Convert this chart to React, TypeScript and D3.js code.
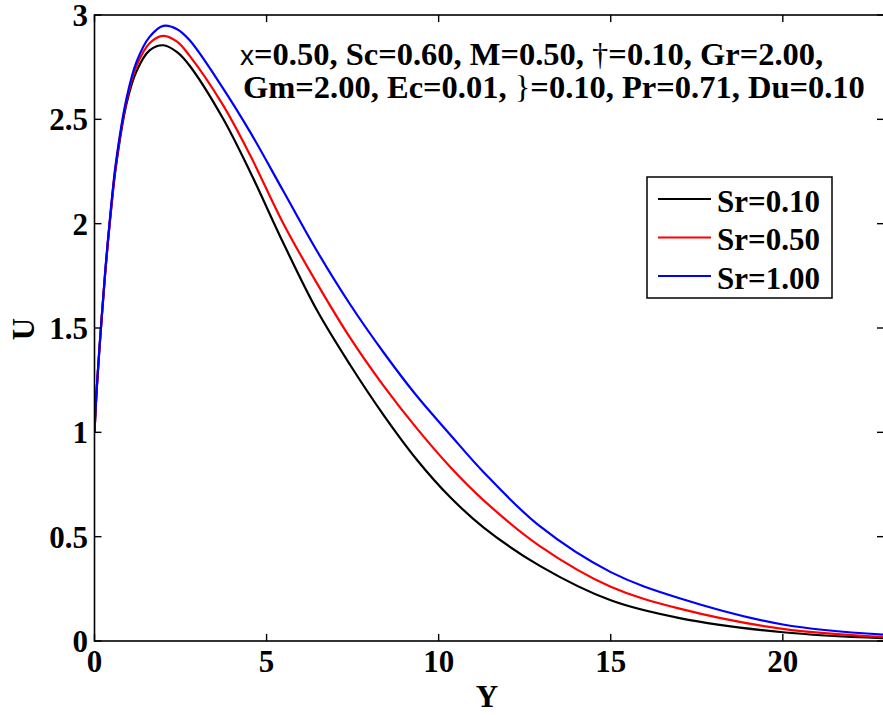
import React from "react";
import * as d3 from "d3";

const yGrid = [0, 0.07, 0.21, 0.33, 0.46, 0.62, 0.93, 1.22, 1.6, 2.0, 2.4, 2.76, 3.73, 4.52, 5.49, 6.46, 7.42, 8.39, 9.36, 10.33, 11.3, 12.94, 15, 17, 20, 22.94];
const uSr010 = [1.0, 1.22, 1.55, 1.8, 2.03, 2.27, 2.575, 2.73, 2.83, 2.855, 2.822, 2.758, 2.505, 2.249, 1.906, 1.586, 1.325, 1.085, 0.87, 0.69, 0.545, 0.36, 0.195, 0.11, 0.042, 0.013];
const uSr050 = [1.0, 1.22, 1.55, 1.8, 2.035, 2.28, 2.588, 2.755, 2.865, 2.9, 2.872, 2.805, 2.569, 2.329, 2.0, 1.715, 1.455, 1.225, 1.02, 0.835, 0.675, 0.455, 0.26, 0.155, 0.058, 0.019];
const uSr100 = [1.0, 1.225, 1.555, 1.81, 2.045, 2.29, 2.6, 2.775, 2.895, 2.948, 2.932, 2.88, 2.65, 2.44, 2.155, 1.87, 1.615, 1.385, 1.175, 0.99, 0.81, 0.55, 0.33, 0.205, 0.079, 0.03];
const seriesNames = ["Sr=0.10", "Sr=0.50", "Sr=1.00"];
const seriesColors = ["#000000", "#ff0000", "#0000ff"];
const xTicks = [0, 5, 10, 15, 20];
const yTicks = [0, 0.5, 1, 1.5, 2, 2.5, 3];

const FONT = "Liberation Serif, DejaVu Serif, Times New Roman, serif";

export default function App() {
  const W = 883, H = 715;
  const L = 94.5, R = 884, T = 15, B = 641;
  const x = d3.scaleLinear().domain([0, 22.94]).range([L, R]);
  const y = d3.scaleLinear().domain([0, 3]).range([B, T]);
  const line = d3.line<[number, number]>().x(d => x(d[0])).y(d => y(d[1])).curve(d3.curveCatmullRom.alpha(0.5));
  const all = [uSr010, uSr050, uSr100];
  const tl = 7;
  const fs = 31;
  const afs = 32.5;
  return (
    <svg width={W} height={H} style={{ position: "absolute", left: 0, top: 0, background: "#fff" }}>
      <defs>
        <clipPath id="plot"><rect x={L} y={T} width={R - L} height={B - T} /></clipPath>
      </defs>
      <rect x={0} y={0} width={W} height={H} fill="#fff" />
      <g clipPath="url(#plot)">
        {all.map((s, i) => (
          <path key={i} d={line(yGrid.map((g, j) => [g, s[j]] as [number, number])) || ""} fill="none" stroke={seriesColors[i]} strokeWidth={2.2} />
        ))}
      </g>
      <rect x={L} y={T} width={R - L} height={B - T} fill="none" stroke="#000" strokeWidth={1.6} />
      {xTicks.map(t => (
        <g key={"x" + t}>
          <line x1={x(t)} x2={x(t)} y1={B} y2={B - tl} stroke="#000" strokeWidth={1.4} />
          <line x1={x(t)} x2={x(t)} y1={T} y2={T + tl} stroke="#000" strokeWidth={1.4} />
          <text x={x(t)} y={672} textAnchor="middle" fontFamily={FONT} fontWeight="bold" fontSize={fs}>{t}</text>
        </g>
      ))}
      {yTicks.map(t => (
        <g key={"y" + t}>
          <line x1={L} x2={L + tl} y1={y(t)} y2={y(t)} stroke="#000" strokeWidth={1.4} />
          <line x1={R} x2={R - tl} y1={y(t)} y2={y(t)} stroke="#000" strokeWidth={1.4} />
          <text x={88} y={y(t) + 11} textAnchor="end" fontFamily={FONT} fontWeight="bold" fontSize={fs}>{t}</text>
        </g>
      ))}
      <text x={487} y={707} textAnchor="middle" fontFamily={FONT} fontWeight="bold" fontSize={fs}>Y</text>
      <text transform="translate(34,329) rotate(-90)" textAnchor="middle" fontFamily={FONT} fontWeight="bold" fontSize={fs}>U</text>
      <text x={240} y={65} fontFamily={FONT} fontWeight="bold" fontSize={afs}>
        <tspan fontFamily="Liberation Sans, DejaVu Sans, sans-serif" fontWeight="normal" fontSize={28}>x</tspan>
        <tspan>=0.50, Sc=0.60, M=0.50, </tspan>
        <tspan fontWeight="normal">†</tspan>
        <tspan>=0.10, Gr=2.00,</tspan>
      </text>
      <text x={243} y={98} fontFamily={FONT} fontWeight="bold" fontSize={afs}>
        <tspan>Gm=2.00, Ec=0.01, </tspan>
        <tspan fontWeight="normal">{"}"}</tspan>
        <tspan>=0.10, Pr=0.71, Du=0.10</tspan>
      </text>
      <rect x={647} y={177} width={185} height={121} fill="#fff" stroke="#000" strokeWidth={1.5} />
      {seriesNames.map((n, i) => (
        <g key={n}>
          <line x1={658} x2={711} y1={199 + i * 38.5} y2={199 + i * 38.5} stroke={seriesColors[i]} strokeWidth={2} />
          <text x={717} y={211.5 + i * 38.5} fontFamily={FONT} fontWeight="bold" fontSize={fs}>{n}</text>
        </g>
      ))}
    </svg>
  );
}
